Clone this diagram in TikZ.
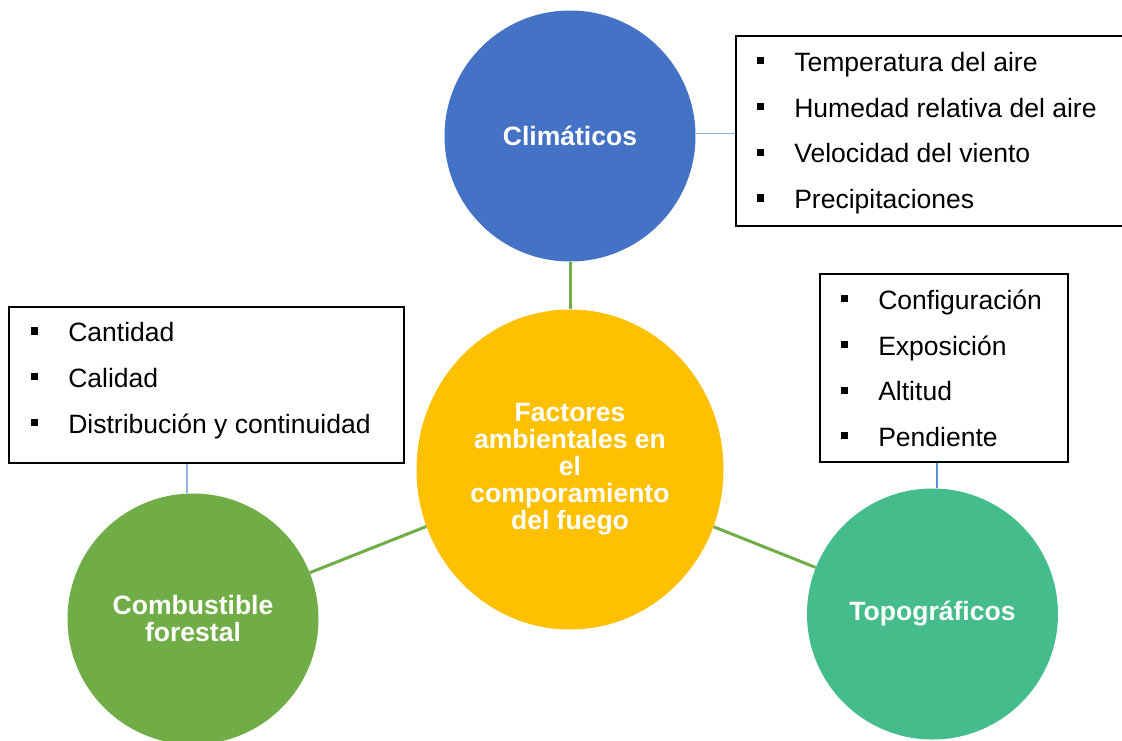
\documentclass[tikz,border=0pt]{standalone}
\usepackage{fontspec}
\setmainfont{Liberation Sans}
\usetikzlibrary{shapes.geometric}
\definecolor{cblue}{HTML}{4472C4}
\definecolor{cyellow}{HTML}{FFC000}
\definecolor{cgreen}{HTML}{70AD47}
\definecolor{cteal}{HTML}{44BC8C}
\definecolor{lblue}{HTML}{8FB4E3}
\definecolor{mblue}{HTML}{5B8FD4}
\newcommand\lbul{\rule[5.4pt]{5.3pt}{5.3pt}}
\begin{document}
\begin{tikzpicture}[x=0.75pt,y=-0.75pt,
  bubble/.style={circle, minimum size=188.25pt, inner sep=0pt, text=white,
    font=\fontsize{19.9}{20.25}\selectfont\bfseries, align=center},
  listbox/.style={draw=black, line width=1.4pt, anchor=north west, inner sep=0pt},
  listtext/.style={anchor=base west, inner sep=0pt, font=\fontsize{19.9}{34.3}\selectfont},
  link/.style={draw=cgreen, line width=2.25pt},
  tie/.style={draw=lblue, line width=1pt}]
\clip (0,0) rectangle (1122,740);
\fill[white] (0,0) rectangle (1122,740);

% boxes
\node[listbox, minimum width=296.25pt, minimum height=142.5pt] (climbox) at (735,35) {};
\node[listbox, minimum width=296.25pt, minimum height=117pt] (combbox) at (8,306) {};
\node[listbox, minimum width=186pt, minimum height=141pt] (topobox) at (819,273) {};

\node[listtext] (climlist) at (757,71.5) {\begin{tabular}[t]{@{}l@{\hspace{22.45pt}}l@{}}
\lbul & Temperatura del aire\\
\lbul & Humedad relativa del aire\\
\lbul & Velocidad del viento\\
\lbul & Precipitaciones
\end{tabular}};
\node[listtext] (comblist) at (31,341.7) {\begin{tabular}[t]{@{}l@{\hspace{22.45pt}}l@{}}
\lbul & Cantidad\\
\lbul & Calidad\\
\lbul & Distribución y continuidad
\end{tabular}};
\node[listtext] (topolist) at (841,309.3) {\begin{tabular}[t]{@{}l@{\hspace{22.45pt}}l@{}}
\lbul & Configuración\\
\lbul & Exposición\\
\lbul & Altitud\\
\lbul & Pendiente
\end{tabular}};

% circles
\node[bubble, fill=cblue] (clim) at (570,136) {Climáticos};
\node[bubble, fill=cgreen] (comb) at (193,619) {Combustible\\forestal};
\node[bubble, fill=cteal] (topo) at (932.5,614) {Topográficos};
\node[bubble, ellipse, fill=cyellow, minimum width=230.25pt, minimum height=240pt] (core) at (570,469.5)
  {Factores\\ambientales en\\el\\comporamiento\\del fuego};

% connectors
\draw[link] (clim) -- (core);
\draw[link] (core) -- (comb);
\draw[link] (core) -- (topo);

\coordinate (lx) at (187,0);
\coordinate (rx) at (937,0);
\draw[tie] (clim.1.4) -- (clim.1.4 -| climbox.west);
\draw[tie] (combbox.south -| lx) -- (comb.north -| lx);
\draw[tie, draw=mblue, line width=0.8pt] (topobox.south -| rx) -- (topo.north -| rx);
\end{tikzpicture}
\end{document}
